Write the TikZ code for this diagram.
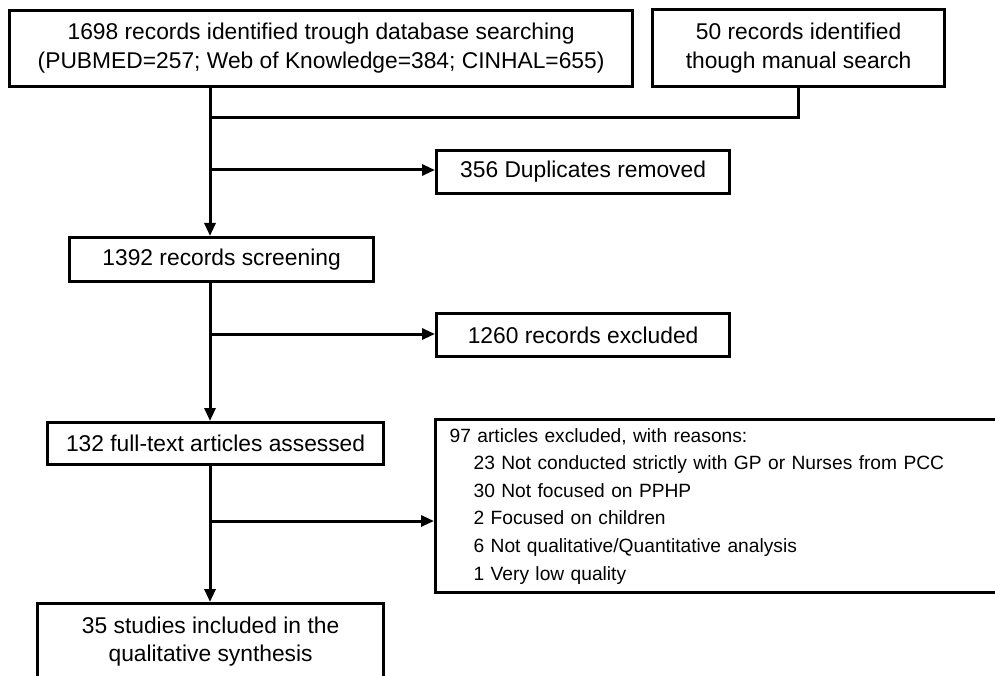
\documentclass[tikz,border=0pt]{standalone}
\usepackage{fontspec}
\setmainfont{Liberation Sans}
\usetikzlibrary{arrows.meta}
\begin{document}
\begin{tikzpicture}[x=1pt,y=-1pt,
  box/.style={draw,line width=3.2pt,inner sep=0pt,anchor=north west,align=center,
    font=\fontsize{22.8}{29}\selectfont},
  conn/.style={line width=3pt},
  arr/.style={conn,-{Triangle[length=13pt,width=11pt]}}]
\useasboundingbox (0,0) rectangle (995,676);
\clip (0,0) rectangle (995,676);
\node[box,minimum width=623pt,minimum height=76pt] (b1) at (8,9)
  {1698 records identified trough database searching\\(PUBMED=257; Web of Knowledge=384; CINHAL=655)};
\node[box,minimum width=292pt,minimum height=77pt] (b2) at (651,8)
  {50 records identified\\though manual search};
\node[box,minimum width=293pt,minimum height=43pt] (dup) at (435,149) {356 Duplicates removed};
\node[box,minimum width=304pt,minimum height=44pt] (scr) at (68,236) {1392 records screening};
\node[box,minimum width=293pt,minimum height=43pt] (exc) at (435,312) {1260 records excluded};
\node[box,minimum width=336pt,minimum height=42pt] (ft) at (46,421) {132 full-text articles assessed};
\node[box,minimum width=571pt,minimum height=173pt,text width=543pt,inner xsep=14pt,align=left,
  font=\fontsize{19.2}{27.6}\selectfont] (rea) at (434,418)
  {97 articles excluded, with reasons:\\
   \hspace*{24pt}23 Not conducted strictly with GP or Nurses from PCC\\
   \hspace*{24pt}30 Not focused on PPHP\\
   \hspace*{24pt}2 Focused on children\\
   \hspace*{24pt}6 Not qualitative/Quantitative analysis\\
   \hspace*{24pt}1 Very low quality};
\node[box,minimum width=346pt,minimum height=76pt,font=\fontsize{22.8}{28}\selectfont] (inc) at (36,602)
  {35 studies included in the\\qualitative synthesis};
\coordinate (t) at (210,0);
\coordinate (j1) at (210,118);
\coordinate (j2) at (210,170);
\coordinate (j3) at (210,334);
\coordinate (j4) at (210,521);
\draw[arr] (b1.south -| t) -- (scr.north -| t);
\draw[conn] (b2.south) |- (j1);
\draw[arr] (j2) -- (j2 -| dup.west);
\draw[arr] (scr.south -| t) -- (ft.north -| t);
\draw[arr] (j3) -- (j3 -| exc.west);
\draw[arr] (ft.south -| t) -- (inc.north -| t);
\draw[arr] (j4) -- (j4 -| rea.west);
\end{tikzpicture}
\end{document}
